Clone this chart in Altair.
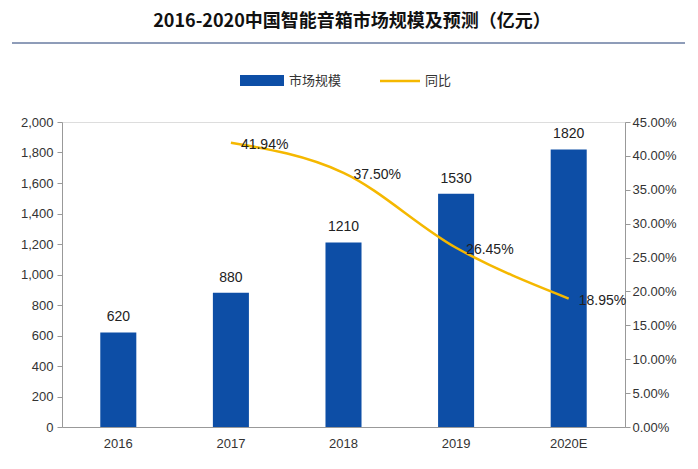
import altair as alt
import pandas as pd

years = ["2016", "2017", "2018", "2019", "2020E"]
scale_vals = [620, 880, 1210, 1530, 1820]
yoy_years = ["2017", "2018", "2019", "2020E"]
yoy_vals = [41.94, 37.50, 26.45, 18.95]

bars_df = pd.DataFrame({"year": years, "v": scale_vals})
line_df = pd.DataFrame({"year": yoy_years, "p": [v / 100 for v in yoy_vals],
                        "lab": [f"{v:.2f}%" for v in yoy_vals]})

F = "Liberation Sans"
xenc = alt.X("year:N", sort=years, title=None,
             scale=alt.Scale(paddingInner=0.68, paddingOuter=0.34),
             axis=alt.Axis(labelAngle=0, labelFont=F, labelFontSize=13, labelColor="#333",
                           domainColor="#999", ticks=False, labelPadding=10))
yl = alt.Y("v:Q", title=None, scale=alt.Scale(domain=[0, 2000]),
           axis=alt.Axis(values=list(range(0, 2001, 200)), grid=False, labelFont=F,
                         labelFontSize=13, labelColor="#333", domainColor="#999",
                         tickColor="#999", labelPadding=4))
yr = alt.Y("p:Q", title=None, scale=alt.Scale(domain=[0, 0.45]),
           axis=alt.Axis(orient="right", values=[i * 0.05 for i in range(10)], format=".2%",
                         grid=False, labelFont=F, labelFontSize=13, labelColor="#333",
                         domainColor="#999", tickColor="#999"))

base = alt.Chart(bars_df)
bars = base.mark_bar(color="#0d4ea6").encode(x=xenc, y=yl)
btxt = base.mark_text(dy=-15, font=F, fontSize=14, color="#222").encode(x=xenc, y=yl, text="v:Q")
left = alt.layer(bars, btxt)

lb = alt.Chart(line_df)
line = lb.mark_line(color="#f5b800", strokeWidth=2.5, interpolate="monotone").encode(x=xenc, y=yr)
ltxt = lb.mark_text(align="left", dx=10, dy=2, font=F, fontSize=14, color="#222").encode(
    x=xenc, y=yr, text="lab:N")
right = alt.layer(line, ltxt)

dummy = alt.Chart(pd.DataFrame({"a": [0]}))
title = dummy.mark_text(font="Noto Sans CJK SC", fontSize=18, fontWeight="bold", color="#111").encode(
    x=alt.value(290), y=alt.value(-100), text=alt.value("2016-2020中国智能音箱市场规模及预测（亿元）"))
rule = dummy.mark_rule(color="#1f3b73", strokeWidth=1).encode(
    x=alt.value(-50), x2=alt.value(628), y=alt.value(-79))
leg_rect = dummy.mark_rect(color="#0d4ea6").encode(
    x=alt.value(178), x2=alt.value(222), y=alt.value(-47), y2=alt.value(-36))
leg_t1 = dummy.mark_text(align="left", font="Noto Sans CJK SC", fontSize=13, color="#333").encode(
    x=alt.value(227), y=alt.value(-41), text=alt.value("市场规模"))
leg_line = dummy.mark_rule(color="#f5b800", strokeWidth=2.5).encode(
    x=alt.value(318), x2=alt.value(358), y=alt.value(-41))
leg_t2 = dummy.mark_text(align="left", font="Noto Sans CJK SC", fontSize=13, color="#333").encode(
    x=alt.value(363), y=alt.value(-41), text=alt.value("同比"))

chart = alt.layer(left, right, title, rule, leg_rect, leg_t1, leg_line, leg_t2).resolve_scale(
    y="independent").properties(
    width=563, height=305,
    autosize=alt.AutoSizeParams(type="none"),
    padding={"left": 54, "top": 114, "right": 60, "bottom": 40},
).configure_view(stroke=None, strokeWidth=0).configure(background="white")

chart.save("out.html", embed_options={"renderer": "svg", "actions": False})
